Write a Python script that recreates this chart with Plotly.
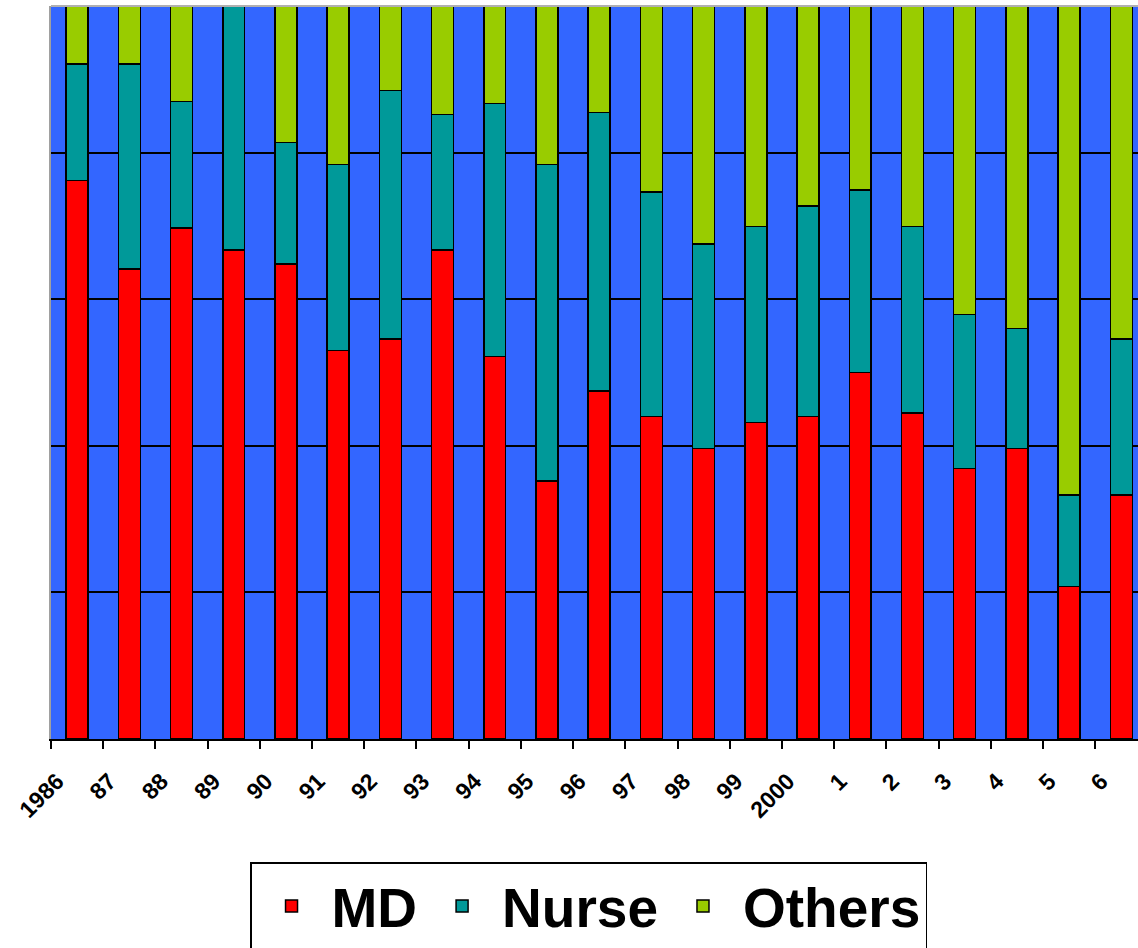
import plotly.graph_objects as go

categories = ["1986", "87", "88", "89", "90", "91", "92", "93", "94", "95", "96",
              "97", "98", "99", "2000", "1", "2", "3", "4", "5", "6"]
md = [76.2, 64.1, 69.7, 66.7, 64.8, 53.0, 54.6, 66.7, 52.2, 35.2, 47.5,
      44.0, 39.6, 43.2, 44.0, 50.0, 44.5, 36.9, 39.6, 20.8, 33.3]
nurse = [15.9, 28.0, 17.3, 33.3, 16.6, 25.4, 33.9, 18.5, 34.5, 43.2, 38.0,
         30.6, 27.9, 26.7, 28.7, 24.9, 25.4, 21.0, 16.4, 12.5, 21.3]
others = [7.9, 7.9, 13.0, 0.0, 18.6, 21.6, 11.5, 14.8, 13.3, 21.6, 14.5,
          25.4, 32.5, 30.1, 27.3, 25.1, 30.1, 42.1, 44.0, 66.7, 45.4]

series = [("MD", md, "#FF0000"), ("Nurse", nurse, "#009999"), ("Others", others, "#99CC00")]

fig = go.Figure()
for name, vals, color in series:
    fig.add_trace(go.Bar(
        x=categories, y=vals, name=name, width=0.42,
        marker=dict(color=color, line=dict(color="black", width=1.5)),
    ))

fig.update_layout(
    width=1138, height=948,
    barmode="stack",
    paper_bgcolor="white",
    plot_bgcolor="#3366FF",
    margin=dict(l=51, r=0, t=6, b=209, autoexpand=False),
    font=dict(family="Liberation Sans, Arial, sans-serif", color="black"),
    showlegend=True,
    legend=dict(
        orientation="h", x=0.1831, xanchor="left", y=-0.168, yanchor="top",
        bordercolor="black", borderwidth=1.5, bgcolor="white",
        font=dict(size=55, weight="bold", family="Liberation Sans, Arial, sans-serif"),
        traceorder="normal", itemwidth=70,
    ),
    xaxis=dict(
        type="category", range=[-0.5, 20.32],
        tickangle=-45, tickson="boundaries", ticks="outside", ticklen=8,
        tickwidth=1.5, tickcolor="black",
        tickfont=dict(size=23, weight="bold"),
        ticklabelstandoff=18, ticklabelshift=-20,
        showline=True, linecolor="black", linewidth=1.5,
        showgrid=False, zeroline=False,
    ),
    yaxis=dict(
        range=[0, 100], dtick=20, showticklabels=False, ticks="",
        showgrid=True, gridcolor="black", gridwidth=1.5,
        showline=True, linecolor="#a0a0a0", linewidth=2, zeroline=False,
    ),
    shapes=[dict(type="line", xref="paper", yref="paper", x0=0, x1=1, y0=1, y1=1,
                 line=dict(color="#b0b0b0", width=2))],
)

fig.write_html("out.html", config={"displayModeBar": False},
               post_script="document.body.style.margin='0';document.body.style.overflow='hidden';")
